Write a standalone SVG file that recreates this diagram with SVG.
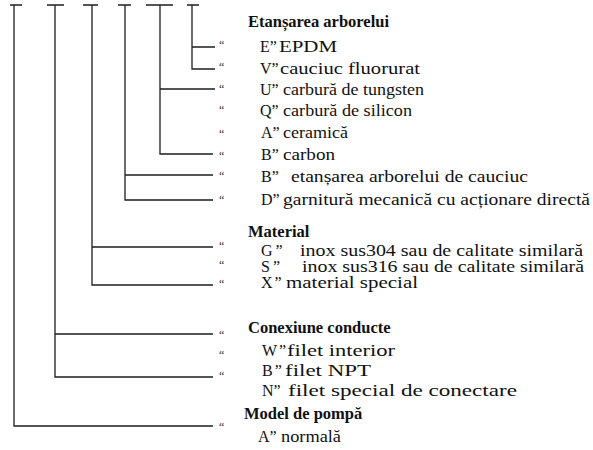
<svg xmlns="http://www.w3.org/2000/svg" width="593" height="450" viewBox="0 0 593 450">
<style>
.ln{stroke:#1e1e1e;stroke-width:1.3;fill:none}
.t{font-family:"Liberation Serif","Times New Roman",serif;font-size:16px;fill:#111}
.h{font-family:"Liberation Serif","Times New Roman",serif;font-size:16.5px;font-weight:bold;fill:#111}
.q{font-family:"Liberation Serif","Times New Roman",serif;font-size:12px;fill:#333}
</style>
<rect width="593" height="450" fill="#fff"/>
<g id="connectors">
<path class="ln" d="M10 5H22 M14 5V426H213"/>
<path class="ln" d="M47 5H64 M55 5V377H213 M55 334H213"/>
<path class="ln" d="M83 5H98 M92 5V285H213 M92 247H213"/>
<path class="ln" d="M118 5H131 M125 5V200H213 M125 175H213"/>
<path class="ln" d="M146 5H173 M160 5V154H213 M160 89H215"/>
<path class="ln" d="M187 5H199 M192 5V69H215 M192 47H215"/>
</g>
<g id="marks" class="q">
<text x="219" y="49">“</text>
<text x="219" y="71">“</text>
<text x="219" y="93">“</text>
<text x="219" y="114">“</text>
<text x="219" y="138">“</text>
<text x="219" y="160">“</text>
<text x="219" y="180">“</text>
<text x="219" y="204">“</text>
<text x="219" y="250">“</text>
<text x="219" y="269">“</text>
<text x="219" y="288">“</text>
<text x="219" y="339">“</text>
<text x="219" y="359">“</text>
<text x="219" y="380">“</text>
<text x="219" y="431">“</text>
</g>
<g id="shaft-seal">
<text class="h" x="248" y="27">Etanșarea arborelui</text>
<text class="t" y="52"><tspan x="260">E”</tspan><tspan x="279" textLength="58" lengthAdjust="spacingAndGlyphs">EPDM</tspan></text>
<text class="t" y="74"><tspan x="260">V”</tspan><tspan x="280" textLength="140" lengthAdjust="spacingAndGlyphs">cauciuc fluorurat</tspan></text>
<text class="t" y="95"><tspan x="260">U”</tspan><tspan x="283" textLength="141" lengthAdjust="spacingAndGlyphs">carbură de tungsten</tspan></text>
<text class="t" y="116"><tspan x="260">Q”</tspan><tspan x="283" textLength="129" lengthAdjust="spacingAndGlyphs">carbură de silicon</tspan></text>
<text class="t" y="138"><tspan x="261">A”</tspan><tspan x="283" textLength="65" lengthAdjust="spacingAndGlyphs">ceramică</tspan></text>
<text class="t" y="160"><tspan x="261">B”</tspan><tspan x="283" textLength="52" lengthAdjust="spacingAndGlyphs">carbon</tspan></text>
<text class="t" y="182"><tspan x="261">B”</tspan><tspan x="291" textLength="237" lengthAdjust="spacingAndGlyphs">etanșarea arborelui de cauciuc</tspan></text>
<text class="t" y="205"><tspan x="261">D”</tspan><tspan x="283" textLength="307" lengthAdjust="spacingAndGlyphs">garnitură mecanică cu acționare directă</tspan></text>
</g>
<g id="material">
<text class="h" x="248" y="237" font-size="16px">Material</text>
<text class="t" y="256"><tspan x="261">G</tspan><tspan dx="3">”</tspan><tspan x="300" textLength="283" lengthAdjust="spacingAndGlyphs">inox sus304 sau de calitate similară</tspan></text>
<text class="t" y="272"><tspan x="261">S</tspan><tspan dx="3">”</tspan><tspan x="302" textLength="282" lengthAdjust="spacingAndGlyphs">inox sus316 sau de calitate similară</tspan></text>
<text class="t" y="288"><tspan x="261">X</tspan><tspan dx="2">”</tspan><tspan x="286" textLength="132" lengthAdjust="spacingAndGlyphs">material special</tspan></text>
</g>
<g id="pipe-connection">
<text class="h" x="248" y="333">Conexiune conducte</text>
<text class="t" y="356"><tspan x="262">W</tspan><tspan dx="2">”</tspan><tspan x="287" textLength="108" lengthAdjust="spacingAndGlyphs">filet interior</tspan></text>
<text class="t" y="376"><tspan x="262">B</tspan><tspan dx="2">”</tspan><tspan x="285" textLength="86" lengthAdjust="spacingAndGlyphs">filet NPT</tspan></text>
<text class="t" y="396"><tspan x="262">N”</tspan><tspan x="288" textLength="229" lengthAdjust="spacingAndGlyphs">filet special de conectare</tspan></text>
</g>
<g id="pump-model">
<text class="h" x="244" y="419">Model de pompă</text>
<text class="t" y="442"><tspan x="258">A”</tspan><tspan x="281" textLength="60" lengthAdjust="spacingAndGlyphs">normală</tspan></text>
</g>
</svg>
